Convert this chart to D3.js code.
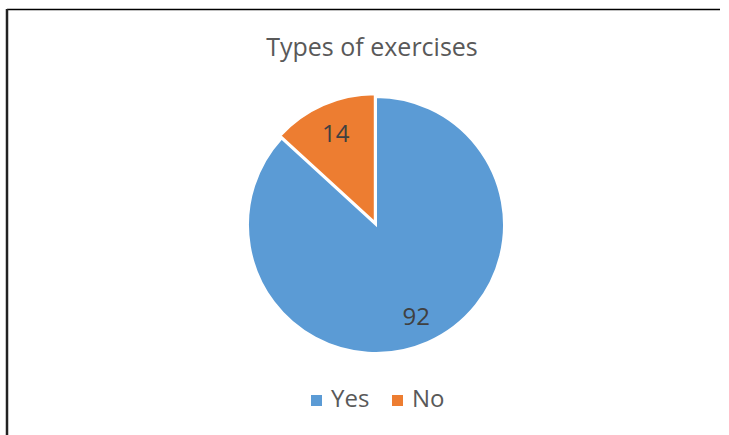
<!DOCTYPE html>
<html><head><meta charset="utf-8">
<script src="https://cdn.jsdelivr.net/npm/d3@7"></script>
<style>body{margin:0;background:#fff}svg{display:block}text{font-family:"Open Sans",sans-serif}</style>
</head><body>
<svg id="c" width="729" height="435"></svg>
<script>
const categories = ["Yes", "No"];
const values = [92, 14];
const colors = ["#5B9BD5", "#ED7D31"];
const title = "Types of exercises";

const svg = d3.select("#c");
svg.append("line").attr("x1",7).attr("x2",720).attr("y1",9.5).attr("y2",9.5).attr("stroke","#000").attr("stroke-width",1.5);
svg.append("line").attr("x1",7).attr("x2",7).attr("y1",9).attr("y2",435).attr("stroke","#222").attr("stroke-width",2.5);

svg.append("text").attr("x",372).attr("y",56).attr("text-anchor","middle").attr("font-size",25).attr("fill","#595959").text(title);

const cx=376, cy=225, r=128;
const pie = d3.pie().sort(null).value(d=>d);
const arcs = pie(values);
const arc = d3.arc().innerRadius(0).outerRadius(r);
const g = svg.append("g").attr("transform",`translate(${cx},${cy})`);
const explode=[0,3];
g.selectAll("path").data(arcs).join("path")
 .attr("d",arc)
 .attr("transform",(d,i)=>{const a=(d.startAngle+d.endAngle)/2;return `translate(${Math.sin(a)*explode[i]},${-Math.cos(a)*explode[i]})`;})
 .attr("fill",(d,i)=>colors[i]).attr("stroke","#fff").attr("stroke-width",2);
const lab = d3.arc().innerRadius(r*0.78).outerRadius(r*0.78);
g.selectAll("text").data(arcs).join("text")
 .attr("x",d=>lab.centroid(d)[0]).attr("y",d=>lab.centroid(d)[1])
 .attr("text-anchor","middle").attr("dy","0.35em").attr("font-size",24).attr("fill","#404040")
 .text(d=>d.data);

// legend
const lg = svg.append("g");
const items=[{x:311},{x:392}];
categories.forEach((c,i)=>{
  lg.append("rect").attr("x",items[i].x).attr("y",395).attr("width",11).attr("height",11).attr("fill",colors[i]);
  lg.append("text").attr("x",items[i].x+20).attr("y",407).attr("font-size",24).attr("fill","#595959").text(c);
});
</script>
</body></html>
